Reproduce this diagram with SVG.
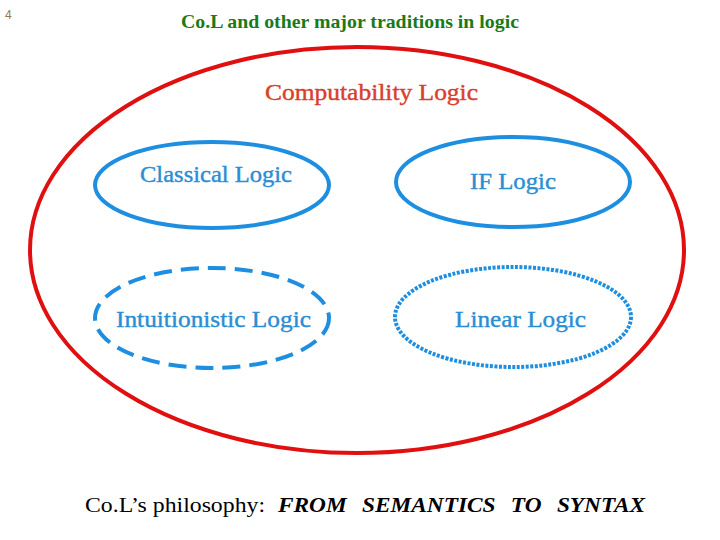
<svg xmlns="http://www.w3.org/2000/svg" width="720" height="540" viewBox="0 0 720 540">
<style>
.blue{fill:none;stroke:#1e8fe0;stroke-width:4}
.serif{font-family:'Liberation Serif','Times New Roman',serif}
.lbl{font-size:23px;fill:#2a8ed4;stroke:#2a8ed4;stroke-width:0.4}
</style>
<rect width="720" height="540" fill="#fff"/>
<text x="5" y="19" font-family="'Liberation Sans',Arial,sans-serif" font-size="12" fill="#8a7a5a">4</text>
<text class="serif" x="181" y="28" font-size="19" font-weight="bold" fill="#1a7a1a" textLength="338" lengthAdjust="spacingAndGlyphs">Co.L and other major traditions in logic</text>
<g id="computability">
<ellipse cx="357" cy="250" rx="327" ry="203" fill="none" stroke="#e01010" stroke-width="4"/>
<text class="serif" x="265" y="100" font-size="23" fill="#d8402a" stroke="#d8402a" stroke-width="0.4" textLength="213" lengthAdjust="spacingAndGlyphs">Computability Logic</text>
</g>
<g id="classical">
<ellipse class="blue" cx="212" cy="185" rx="117" ry="43"/>
<text class="serif lbl" x="140" y="182" textLength="152" lengthAdjust="spacingAndGlyphs">Classical Logic</text>
</g>
<g id="if">
<ellipse class="blue" cx="513" cy="182" rx="117" ry="45"/>
<text class="serif lbl" x="470" y="189" textLength="86" lengthAdjust="spacingAndGlyphs">IF Logic</text>
</g>
<g id="intuitionistic">
<ellipse class="blue" cx="212" cy="318" rx="117" ry="50" stroke-dasharray="18,9"/>
<text class="serif lbl" x="116" y="327" textLength="195" lengthAdjust="spacingAndGlyphs">Intuitionistic Logic</text>
</g>
<g id="linear">
<ellipse class="blue" cx="513" cy="317" rx="118" ry="50" stroke-dasharray="3,1.5"/>
<text class="serif lbl" x="455" y="327" textLength="131" lengthAdjust="spacingAndGlyphs">Linear Logic</text>
</g>
<g id="connectors"/>
<text class="serif" x="85" y="512" font-size="22" fill="#000" textLength="180" lengthAdjust="spacingAndGlyphs">Co.L’s philosophy:</text>
<text class="serif" x="278" y="512" font-size="22" font-weight="bold" font-style="italic" fill="#000" word-spacing="9" textLength="367" lengthAdjust="spacingAndGlyphs">FROM SEMANTICS TO SYNTAX</text>
</svg>
